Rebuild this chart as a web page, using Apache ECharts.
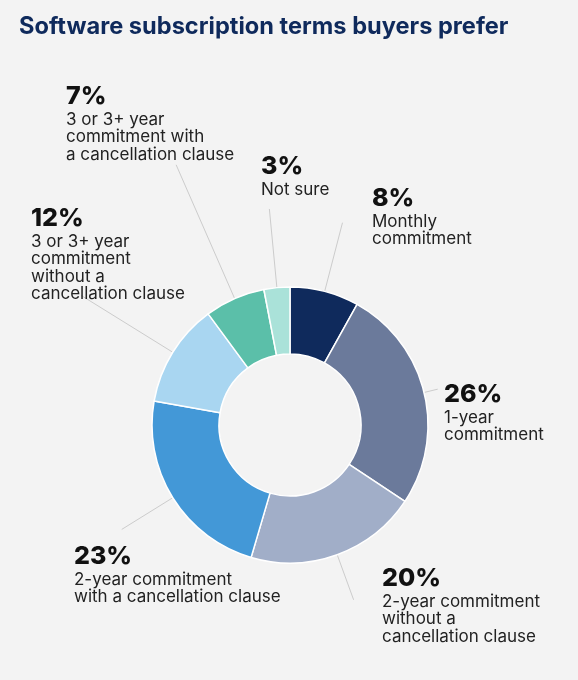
<!DOCTYPE html>
<html>
<head>
<meta charset="utf-8">
<script src="https://cdn.jsdelivr.net/npm/echarts@6/dist/echarts.min.js"></script>
<style>
  html, body { margin: 0; padding: 0; background: #f3f3f3; }
  #chart { width: 578px; height: 680px; }
</style>
</head>
<body>
<div id="chart"></div>
<script>
// 数据
var categories = [
    'Monthly\ncommitment',
    '1-year\ncommitment',
    '2-year commitment\nwithout a\ncancellation clause',
    '2-year commitment\nwith a cancellation clause',
    '3 or 3+ year\ncommitment\nwithout a\ncancellation clause',
    '3 or 3+ year\ncommitment with\na cancellation clause',
    'Not sure'
];
var values = [8, 26, 20, 23, 12, 7, 3];
var colors = ['#0f2a5c', '#6b7a9b', '#a1aec8', '#4398d7', '#a9d6f1', '#5bbfa9', '#aae2d9'];

// 标签位置(左上角) 和 引导线长度
var labelPos = [[372, 183], [444, 379], [382, 563], [74, 541], [31, 203], [66, 81], [261, 151]];
var lineLen = [71, 14, 48, 60, 108, 146, 79];

var font = 'Inter, "Noto Sans", sans-serif';

var pieData = [];
for (var i = 0; i < values.length; i++) {
    pieData.push({
        name: categories[i],
        value: values[i],
        itemStyle: { color: colors[i] },
        labelLine: { length: lineLen[i] }
    });
}

var myChart = echarts.init(document.getElementById('chart'));
var option = {
    backgroundColor: '#f3f3f3',
    animation: false,
    title: {
        text: 'Software subscription terms buyers prefer',
        left: 14,
        top: 10,
        textStyle: {
            fontFamily: font,
            fontSize: 23.6,
            fontWeight: 'bold',
            color: '#0f2a5c'
        }
    },
    series: [
        {
            type: 'pie',
            center: [290, 425],
            radius: [71, 138],
            startAngle: 90,
            clockwise: true,
            avoidLabelOverlap: false,
            itemStyle: {
                borderColor: '#ffffff',
                borderWidth: 1.5
            },
            label: {
                show: true,
                position: 'outside',
                formatter: function (p) {
                    return '{p|' + p.value + '%}\n{d|' + p.name + '}';
                },
                rich: {
                    p: {
                        fontFamily: font,
                        fontSize: 25,
                        fontWeight: 800,
                        color: '#111111',
                        lineHeight: 30
                    },
                    d: {
                        fontFamily: font,
                        fontSize: 17,
                        color: '#222222',
                        lineHeight: 17.5
                    }
                }
            },
            labelLine: {
                show: true,
                length2: 0,
                lineStyle: { color: '#cccccc', width: 1 }
            },
            labelLayout: function (params) {
                var pos = labelPos[params.dataIndex];
                return {
                    x: pos[0],
                    y: pos[1],
                    align: 'left',
                    verticalAlign: 'top',
                    labelLinePoints: params.labelLinePoints
                };
            },
            data: pieData
        }
    ]
};
myChart.setOption(option);
</script>
</body>
</html>
